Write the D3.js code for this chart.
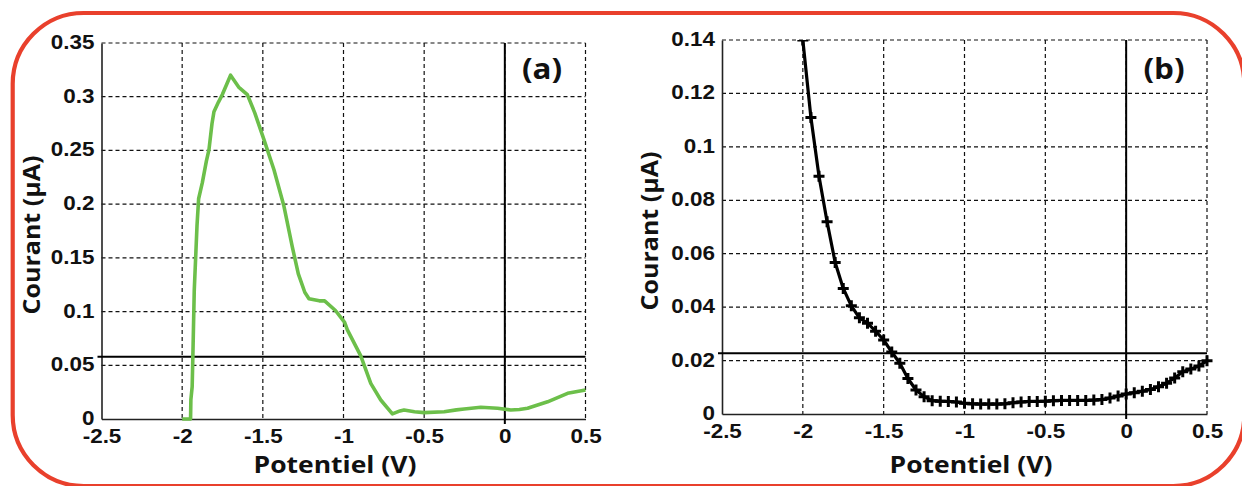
<!DOCTYPE html>
<html><head><meta charset="utf-8">
<script src="https://cdn.jsdelivr.net/npm/d3@7"></script>
<style>html,body{margin:0;padding:0;background:#fff;} svg{display:block;}</style>
</head><body>
<svg id="chart" width="1242" height="486"></svg>
<script>
// ---------- data ----------
const xTicks = [-2.5, -2, -1.5, -1, -0.5, 0, 0.5];
const xTickLabels = ["-2.5", "-2", "-1.5", "-1", "-0.5", "0", "0.5"];
const yTicksA = [0, 0.05, 0.1, 0.15, 0.2, 0.25, 0.3, 0.35];
const yTickLabelsA = ["0", "0.05", "0.1", "0.15", "0.2", "0.25", "0.3", "0.35"];
const yTicksB = [0, 0.02, 0.04, 0.06, 0.08, 0.1, 0.12, 0.14];
const yTickLabelsB = ["0", "0.02", "0.04", "0.06", "0.08", "0.1", "0.12", "0.14"];

const potentialA = [-2.00, -1.948, -1.946, -1.938, -1.932, -1.925, -1.915, -1.908, -1.898, -1.875, -1.85, -1.834, -1.815, -1.803, -1.775, -1.751, -1.70, -1.65, -1.596, -1.55, -1.493, -1.431, -1.369, -1.317, -1.28, -1.24, -1.214, -1.15, -1.117, -1.05, -0.993, -0.976, -0.893, -0.831, -0.769, -0.697, -0.65, -0.625, -0.56, -0.5, -0.376, -0.3, -0.252, -0.149, -0.045, 0.037, 0.09, 0.141, 0.265, 0.389, 0.50];
const currentA = [0, 0, 0.018, 0.03, 0.07, 0.12, 0.155, 0.18, 0.205, 0.22, 0.24, 0.2505, 0.275, 0.286, 0.295, 0.302, 0.32, 0.309, 0.302, 0.285, 0.26, 0.232, 0.198, 0.16, 0.135, 0.118, 0.112, 0.11, 0.11, 0.101, 0.09, 0.083, 0.0587, 0.0332, 0.0177, 0.0047, 0.0075, 0.0084, 0.0068, 0.0059, 0.0068, 0.0085, 0.0093, 0.0109, 0.010, 0.0084, 0.0088, 0.010, 0.016, 0.0239, 0.027];

const potentialB = [-2.00, -1.95, -1.90, -1.85, -1.80, -1.75, -1.70, -1.65, -1.60, -1.55, -1.50, -1.45, -1.40, -1.35, -1.30, -1.25, -1.20, -1.15, -1.10, -1.05, -1.00, -0.95, -0.90, -0.85, -0.80, -0.75, -0.70, -0.65, -0.60, -0.55, -0.50, -0.45, -0.40, -0.35, -0.30, -0.25, -0.20, -0.15, -0.10, -0.05, 0.00, 0.05, 0.10, 0.15, 0.20, 0.25, 0.30, 0.35, 0.40, 0.45, 0.50];
const currentB = [0.140, 0.111, 0.089, 0.072, 0.0567, 0.047, 0.0405, 0.036, 0.034, 0.031, 0.0277, 0.0232, 0.019, 0.0133, 0.009, 0.0065, 0.005, 0.0048, 0.0047, 0.0045, 0.004, 0.0038, 0.0037, 0.0037, 0.0037, 0.0038, 0.0042, 0.0045, 0.0047, 0.0047, 0.0048, 0.005, 0.0051, 0.0051, 0.0051, 0.0051, 0.0052, 0.0054, 0.006, 0.0067, 0.0075, 0.008, 0.0085, 0.0092, 0.0102, 0.0115, 0.0135, 0.0158, 0.0168, 0.018, 0.0199];

const thresholdA = 0.058;
const thresholdB = 0.0227;
const panelLabels = ["(a)", "(b)"];
const xTitle = "Potentiel (V)";
const yTitle = "Courant (\u00b5A)";

// ---------- layout ----------
const svg = d3.select("#chart");
const TICK_FONT = "'Liberation Sans', Arial, sans-serif";
const TITLE_FONT = "'Open Sans', 'Liberation Sans', sans-serif";

// rounded red frame
svg.append("rect")
  .attr("x", 12.7).attr("y", 13).attr("width", 1231.6).attr("height", 473)
  .attr("rx", 71).attr("ry", 71)
  .attr("fill", "none").attr("stroke", "#e9402c").attr("stroke-width", 4.2);

const panels = [
  { id: "a", L: 101.5, R: 585.5, T: 43, B: 419, ymax: 0.35, yTicks: yTicksA, yLabels: yTickLabelsA,
    xs: potentialA, ys: currentA, thr: thresholdA, color: "#6cbf4a", markers: false, label: panelLabels[0],
    labelX: 542, labelY: 79, xTitleX: 335, yTitleX: 40 },
  { id: "b", L: 722, R: 1207, T: 40, B: 414, ymax: 0.14, yTicks: yTicksB, yLabels: yTickLabelsB,
    xs: potentialB, ys: currentB, thr: thresholdB, color: "#000", markers: true, label: panelLabels[1],
    labelX: 1164, labelY: 79, xTitleX: 971, yTitleX: 658 }
];

panels.forEach(p => {
  const x = d3.scaleLinear().domain([-2.5, 0.5]).range([p.L, p.R]);
  const y = d3.scaleLinear().domain([0, p.ymax]).range([p.B, p.T]);
  const g = svg.append("g");

  // grid
  g.append("g").selectAll("line").data(xTicks.filter(d => d !== -2.5)).join("line")
    .attr("x1", d => x(d)).attr("x2", d => x(d)).attr("y1", p.T).attr("y2", p.B)
    .attr("stroke", "#111").attr("stroke-width", 1.2).attr("stroke-dasharray", "4,3");
  g.append("g").selectAll("line").data(p.yTicks.filter(d => d !== 0)).join("line")
    .attr("x1", p.L).attr("x2", p.R).attr("y1", d => y(d)).attr("y2", d => y(d))
    .attr("stroke", "#111").attr("stroke-width", 1.2).attr("stroke-dasharray", "4,3");

  // axes
  const xa = g.append("g").attr("transform", `translate(0,${p.B})`)
    .call(d3.axisBottom(x).tickValues(xTicks).tickFormat((d, i) => xTickLabels[i]).tickSize(0).tickPadding(10));
  const ya = g.append("g").attr("transform", `translate(${p.L},0)`)
    .call(d3.axisLeft(y).tickValues(p.yTicks).tickFormat((d, i) => p.yLabels[i]).tickSize(0).tickPadding(7));
  [xa, ya].forEach(a => {
    a.select(".domain").attr("stroke", "#222").attr("stroke-width", 1.6);
    a.selectAll("text").attr("class", "stretch").attr("data-k", 1.15)
      .attr("font-family", TICK_FONT).attr("font-weight", "bold")
      .attr("font-size", "19.5px").attr("fill", "#111");
  });
  ya.selectAll("text").attr("dy", "0.28em");

  // clip
  const cid = "clip-" + p.id;
  svg.append("clipPath").attr("id", cid).append("rect")
    .attr("x", p.L - 8).attr("y", p.T).attr("width", p.R - p.L + 16).attr("height", p.B - p.T + 8);

  // reference lines
  g.append("line").attr("x1", x(0)).attr("x2", x(0)).attr("y1", p.T).attr("y2", p.B + 5)
    .attr("stroke", "#000").attr("stroke-width", 2);
  g.append("line").attr("x1", p.L - 4).attr("x2", p.R).attr("y1", y(p.thr)).attr("y2", y(p.thr))
    .attr("stroke", "#000").attr("stroke-width", 2);

  // curve
  const pts = p.xs.map((v, i) => [v, p.ys[i]]);
  const line = d3.line().x(d => x(d[0])).y(d => y(d[1]));
  const cg = g.append("g").attr("clip-path", `url(#${cid})`);
  cg.append("path").datum(pts).attr("d", line)
    .attr("fill", "none").attr("stroke", p.color).attr("stroke-width", p.markers ? 3.2 : 3.6)
    .attr("stroke-linejoin", "round");
  if (p.markers) {
    cg.append("g").selectAll("path").data(pts).join("path")
      .attr("transform", d => `translate(${x(d[0])},${y(d[1])})`)
      .attr("d", "M-5.5,0H5.5M0,-5.5V5.5")
      .attr("stroke", "#000").attr("stroke-width", 3).attr("fill", "none");
  }

  // panel label
  g.append("text").attr("class", "stretch").attr("data-k", 1.12)
    .attr("x", p.labelX).attr("y", p.labelY).attr("text-anchor", "middle")
    .attr("font-family", TITLE_FONT).attr("font-weight", "bold").attr("font-size", "28px")
    .attr("fill", "#111").text(p.label);

  // axis titles
  g.append("text").attr("class", "stretch").attr("data-w", 163)
    .attr("x", p.xTitleX).attr("y", 473).attr("text-anchor", "middle")
    .attr("font-family", TITLE_FONT).attr("font-weight", "bold").attr("font-size", "24px")
    .attr("fill", "#111").text(xTitle);
  g.append("text").attr("class", "stretch").attr("data-w", 159)
    .attr("transform", `translate(${p.yTitleX},${(p.T + p.B) / 2 + 4}) rotate(-90)`)
    .attr("text-anchor", "middle")
    .attr("font-family", TITLE_FONT).attr("font-weight", "bold").attr("font-size", "24px")
    .attr("fill", "#111").text(yTitle);
});

// horizontally stretch text to match the wide rendering of the original
svg.selectAll("text.stretch").each(function () {
  const el = d3.select(this);
  const w = this.getComputedTextLength();
  const target = el.attr("data-w") ? +el.attr("data-w") : w * (+el.attr("data-k"));
  el.attr("textLength", target).attr("lengthAdjust", "spacingAndGlyphs");
});
</script>
</body></html>
